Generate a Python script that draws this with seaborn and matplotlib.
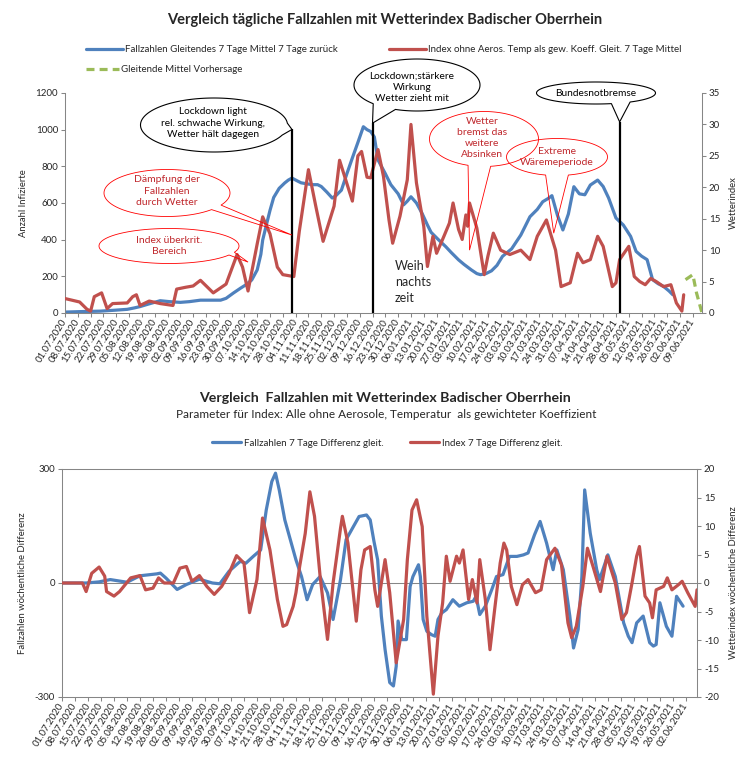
import numpy as np
import pandas as pd
import matplotlib
matplotlib.use("Agg")
import matplotlib.pyplot as plt
import matplotlib.dates as mdates
from matplotlib.patches import Polygon
from matplotlib.transforms import IdentityTransform
import seaborn as sns

sns.set_style("white")
plt.rcParams["font.family"] = ["Lato", "DejaVu Sans"]
plt.rcParams["axes.unicode_minus"] = False

W, H = 756, 762
START = pd.Timestamp("2020-07-01")

# ---- Daten oben (Tag seit 01.07.2020) ----
case_days = [0, 10, 19, 27, 34, 38, 41, 46, 52, 57, 63, 68, 74, 80, 85, 88, 92, 96, 99, 102,
             105, 107, 108, 110, 112, 114, 117, 120, 122, 124, 127, 129, 132, 135, 138, 140, 143, 146, 148, 151,
             154, 157, 160, 163, 165, 167, 169, 171, 175, 178, 182, 185, 187, 189, 192, 195, 198, 200, 204, 208,
             211, 215, 218, 222, 225, 227, 230, 233, 236, 239, 244, 249, 254, 258, 261, 264, 266, 269, 272, 275,
             278, 281, 284, 287, 291, 294, 297, 301, 305, 309, 312, 315, 318, 321, 324, 327, 330, 332]
case_vals = [5, 8, 10, 15, 20, 28, 35, 50, 67, 62, 58, 62, 70, 70, 70, 80, 109, 136, 155, 180,
             235, 320, 398, 480, 560, 630, 680, 709, 725, 736, 720, 710, 705, 700, 700, 690, 660, 627, 640, 670,
             760, 846, 930, 1016, 1000, 990, 960, 835, 760, 700, 650, 590, 610, 634, 600, 545, 480, 440, 400, 362,
             330, 290, 265, 235, 215, 209, 215, 230, 260, 309, 350, 425, 525, 565, 607, 625, 640, 534, 453, 540,
             689, 650, 645, 698, 725, 690, 627, 518, 480, 418, 336, 310, 291, 182, 160, 145, 120, 100]

index_days = [0, 8, 12, 14, 16, 20, 23, 26, 34, 37, 39, 41, 46, 52, 59, 61, 66, 70, 74, 81,
              88, 94, 97, 100, 105, 108, 112, 116, 119, 125, 128, 133, 137, 141, 147, 150, 157, 160, 162, 165,
              167, 171, 174, 177, 179, 183, 187, 189, 192, 196, 198, 201, 203, 207, 210, 212, 215, 217, 219, 220,
              221, 225, 229, 231, 234, 238, 243, 249, 254, 258, 263, 268, 271, 276, 280, 283, 287, 291, 294, 299,
              301, 303, 308, 311, 314, 317, 320, 323, 327, 331, 334, 337, 338]
index_vals = [2.3, 1.75, 0.6, 0.3, 2.6, 3.2, 0.7, 1.5, 1.6, 2.6, 2.9, 1.2, 1.9, 1.5, 1.2, 3.8, 4.1, 4.3, 5.2, 3.2,
              4.6, 9.3, 7.3, 3.5, 11.0, 15.3, 12.6, 7.3, 6.1, 5.8, 13.0, 22.8, 17.0, 11.4, 17.0, 24.3, 17.8, 25.0, 25.7, 21.6,
              21.5, 26.0, 21.7, 14.8, 11.1, 15.4, 21.2, 30.0, 20.7, 13.8, 7.4, 12.2, 9.5, 12.2, 14.3, 17.5, 13.3, 11.7, 15.6, 13.8,
              17.5, 13.5, 6.1, 9.0, 12.7, 10.0, 9.3, 10.0, 8.5, 12.2, 14.8, 10.0, 4.2, 4.8, 9.5, 8.0, 8.5, 12.2, 10.6, 4.2,
              4.8, 8.5, 10.6, 5.8, 5.0, 4.5, 5.5, 5.0, 4.2, 4.5, 1.6, 0.3, 2.9]

fc_days = [339, 343, 345, 348]
fc_vals = [5.3, 6.1, 3.2, 0.0]

event_days = [124, 168, 303]          # Lockdown light, Lockdown, Bundesnotbremse
event_tops = [29.2, 30.2, 30.4]       # in Wetterindex-Einheiten

# ---- Daten unten ----
dcase_days = [0, 13, 20, 26, 35, 42, 51, 53, 56, 62, 67, 74, 81, 85, 90, 96, 99, 103, 107, 110,
              113, 115, 117, 120, 122, 124, 126, 129, 132, 135, 139, 143, 146, 150, 153, 157, 160, 164, 166, 168,
              170, 172, 174, 176.5, 178.5, 180, 181, 183, 185.5, 187.5, 189, 192, 193, 194.5, 196.5, 199, 201, 202.5, 204.5, 207,
              210.5, 214, 218, 221.5, 223, 225, 228, 231.5, 234, 237.5, 241, 245, 248.5, 251, 254.5, 257.5, 261, 264.5, 266.5, 270,
              273.5, 275.5, 278, 280, 281.5, 284.5, 288, 289.5, 294, 298, 302.5, 305, 307, 309.5, 313, 316.5, 318.5, 320, 322, 325.5,
              328.5, 331, 334.5]
dcase_vals = [0, 0, 3, 9, 2, 19, 24, 26, 13, -17, -4, 10, 0, -2, 31, 57, 52, 70, 87, 192,
              267, 289, 245, 166, 131, 96, 61, 17, -44, -4, 17, -26, -96, 9, 114, 149, 175, 179, 166, 110,
              61, -87, -175, -262, -271, -219, -100, -149, -149, -9, 17, 48, 17, -96, -127, -136, -140, -96, -79, -70,
              -44, -61, -52, -48, -35, -83, -61, -17, 17, 22, 70, 70, 74, 79, 127, 162, 105, 35, 87, 35,
              -87, -171, -122, 17, 245, 131, 35, 9, 74, 17, -105, -140, -157, -105, -87, -157, -166, -162, -52, -114,
              -140, -35, -61]

dindex_days = [0, 11, 13, 16, 20, 23, 24, 28, 31, 37, 42, 45, 49, 52, 55, 60, 63.5, 67, 70, 74,
               78, 82, 86, 90, 94, 98, 101, 105, 108, 112, 116, 119, 121, 124.5, 126, 128, 131, 133.5, 136, 139,
               143, 146, 150, 151, 154, 158.5, 161, 163, 166, 168.5, 170, 174, 176.5, 180, 184, 186, 188.5, 191, 194, 196.5,
               198, 200, 202.5, 205, 207, 209, 212.5, 214, 216, 219, 221, 223.5, 225, 228, 230.5, 233, 236, 238, 239.5, 242,
               245, 248, 251, 255, 258, 261, 265.5, 269, 272.5, 274.5, 277, 280.5, 283, 286, 290, 293.5, 298, 301.5, 304, 307,
               309.5, 311, 314, 316.5, 318, 320, 324, 326, 328.5, 332, 334, 337, 341, 342]
dindex_vals = [0, 0, -1.5, 1.7, 2.8, 1.2, -1.5, -2.3, -1.5, 0.9, 1.3, -1.2, -0.9, 0.9, 0, 0, 2.6, 2.9, 0.3, 1.3,
               -0.6, -2.0, -0.6, 1.7, 4.8, 3.5, -5.2, 0.6, 11.4, 5.8, -2.9, -7.6, -7.3, -4.1, -1.7, 2.9, 8.7, 16.0, 11.7, 1.2,
               -9.9, 0, 9.6, 11.7, 7.0, -6.7, 2.3, 5.8, 6.4, -1.2, -4.1, 4.1, -1.7, -14.0, -6.4, 4.1, 12.8, 14.6, 9.9, -5.8,
               -11.7, -19.5, -9.3, -3.5, 4.7, 0.3, 4.7, 3.5, 5.8, -2.9, 0.6, -3.5, 4.1, -2.9, -11.7, -4.7, 3.5, 7.0, 5.8, -0.6,
               -3.8, -0.3, 0.6, -1.7, -1.2, 4.1, 6.1, 3.2, -7.0, -9.6, -7.6, -0.6, 6.1, 2.9, -1.5, 4.7, 0, -6.4, -5.2, 0,
               4.7, 6.4, -2.3, -3.5, -6.1, -1.2, -0.6, 0.9, -1.2, -0.3, 0.3, -1.7, -4.1, -1.2]

top_ticks = pd.date_range("2020-07-01", "2021-06-09", freq="7D")
bot_ticks = pd.date_range("2020-07-01", "2021-06-02", freq="7D")

GRAY = "#868686"
BLUE = "#4F81BD"
RED = "#C0504D"
GREEN = "#9BBB59"
TXTRED = "#C0282D"


def to_dates(days):
    return START + pd.to_timedelta(days, unit="D")


fig = plt.figure(figsize=(W / 100, H / 100), dpi=100)


def fig_axes(left, top, right, bottom):
    return fig.add_axes([left / W, 1 - bottom / H, (right - left) / W, (bottom - top) / H])


def style(ax, axr, ticks, box):
    for s in ["top", "right"]:
        ax.spines[s].set_visible(False)
    for s in ["top", "left", "bottom"]:
        axr.spines[s].set_visible(False)
    for sp in [ax.spines["left"], ax.spines["bottom"], axr.spines["right"]]:
        sp.set_color(GRAY)
        sp.set_linewidth(0.75)
    if box:
        ax.spines["top"].set_visible(True)
        ax.spines["top"].set_color(GRAY)
        ax.spines["top"].set_linewidth(0.75)
    ax.tick_params(axis="both", bottom=True, left=True, direction="out", length=3,
                   width=0.75, color=GRAY, labelsize=7, pad=2)
    axr.tick_params(axis="y", right=True, direction="out", length=3,
                    width=0.75, color=GRAY, labelsize=7, pad=2)
    ax.set_xticks(mdates.date2num(ticks.to_pydatetime()))
    ax.set_xticklabels([d.strftime("%d.%m.%Y") for d in ticks])
    plt.setp(ax.get_xticklabels(), rotation=58, ha="right", va="center",
             rotation_mode="anchor")
    ax.set_xlabel("")


# ================= oberes Diagramm =================
ax1 = fig_axes(65, 93, 702, 313)
ax1r = ax1.twinx()

sns.lineplot(x=to_dates(case_days), y=case_vals, ax=ax1, color=BLUE, linewidth=2.3)
sns.lineplot(x=to_dates(index_days), y=index_vals, ax=ax1r, color=RED, linewidth=2.3)
sns.lineplot(x=to_dates(fc_days), y=fc_vals, ax=ax1r, color=GREEN, linewidth=2.3,
             linestyle=(0, (2.5, 1.6)))
ax1r.vlines(to_dates(event_days), 0, event_tops, color="black", linewidth=1.6)

ax1.set_xlim(START, START + pd.Timedelta(days=348))
ax1.set_ylim(0, 1200)
ax1.set_yticks(range(0, 1201, 200))
ax1r.set_ylim(0, 35)
ax1r.set_yticks(range(0, 36, 5))
style(ax1, ax1r, top_ticks, False)
ax1.set_ylabel("Anzahl Infizierte", fontsize=6.8)
ax1.yaxis.set_label_coords((28 - 65) / 637, 0.5)
ax1r.set_ylabel("Wetterindex", fontsize=6.8)
ax1r.yaxis.set_label_coords((729 - 65) / 637, 0.5)

fig.text(385 / W, 1 - 20 / H, "Vergleich tägliche Fallzahlen mit Wetterindex Badischer Oberrhein",
         ha="center", va="center", fontsize=10.5, fontweight="bold")


def legend_entry(handle, label, x, y, hl, fs=7):
    fig.legend([handle], [label], loc="center left", bbox_to_anchor=(x / W, 1 - y / H),
               frameon=False, fontsize=fs, handlelength=hl, handletextpad=0.25,
               borderpad=0, borderaxespad=0)


legend_entry(ax1.lines[0], "Fallzahlen Gleitendes 7 Tage Mittel 7 Tage zurück", 86, 50, 3.8)
legend_entry(ax1r.lines[0], "Index ohne Aeros. Temp als gew. Koeff. Gleit. 7 Tage Mittel", 389, 50, 3.8)
legend_entry(ax1r.lines[1], "Gleitende Mittel Vorhersage", 86, 70, 3.4)

# Sprechblasen: (Text, Ellipse cx, cy, w, h, Textpos, Spitzenwinkel, Breite, Spitze Tag, Spitze Wert, Farbe)
callouts = [
    ("Lockdown light\nrel. schwache Wirkung,\nWetter hält dagegen", (214, 125, 147, 54), (213, 123), (-9, 13), (124, 29.2), "black"),
    ("Lockdown;stärkere\nWirkung\nWetter zieht mit", (417, 85, 126, 52), (412, 87), (-122, 12), (168, 30.2), "black"),
    ("Bundesnotbremse", (596, 93, 119, 22), (596, 93), (-65, 10), (303, 30.4), "black"),
    ("Dämpfung der\nFallzahlen\ndurch Wetter", (167, 193, 126, 47), (167, 191), (-38, 7), (124, 12.4), "red"),
    ("Index überkrit.\nBereich", (169, 246, 140, 35), (169, 246), (-26, 5), (100, 8.1), "red"),
    ("Wetter\nbremst das\nweitere\nAbsinken", (484, 139, 109, 55), (482, 138), (-95, 12), (221, 10.0), "red"),
    ("Extreme\nWäremeperiode", (557, 157, 101, 37), (557, 157), (-90, 13), (267, 12.7), "red"),
]

fig.canvas.draw()
for text, (cx, cy, w, h), (tx, ty), (t0, dt), (tday, tval), kind in callouts:
    tip = ax1r.transData.transform((mdates.date2num(START + pd.Timedelta(days=tday)), tval))
    ts = np.radians(np.linspace(t0 + dt, t0 + 360 - dt, 160))
    pts = np.column_stack([cx + w / 2 * np.cos(ts), (H - cy) + h / 2 * np.sin(ts)])
    pts = np.vstack([pts, tip])
    if kind == "black":
        fig.add_artist(Polygon(pts, closed=True, transform=IdentityTransform(),
                               facecolor="white", edgecolor="black", linewidth=0.8))
        fig.text(tx / W, 1 - ty / H, text, ha="center", va="center", fontsize=7.3,
                 linespacing=1.3, color="black")
    else:
        fig.add_artist(Polygon(pts, closed=True, transform=IdentityTransform(),
                               facecolor="none", edgecolor="#FF0000", linewidth=0.6))
        fig.text(tx / W, 1 - ty / H, text, ha="center", va="center", fontsize=7.5,
                 linespacing=1.3, color=TXTRED)

fig.text(395 / W, 1 - 282 / H, "Weih\nnachts\nzeit", ha="left", va="center",
         fontsize=9, linespacing=1.35)

# ================= unteres Diagramm =================
ax2 = fig_axes(62, 469, 697, 697)
ax2r = ax2.twinx()

sns.lineplot(x=to_dates(dcase_days), y=dcase_vals, ax=ax2, color=BLUE, linewidth=2.3)
sns.lineplot(x=to_dates(dindex_days), y=dindex_vals, ax=ax2r, color=RED, linewidth=2.3)
ax2.axhline(0, color=GRAY, linewidth=0.75, zorder=0)

ax2.set_xlim(START, START + pd.Timedelta(days=342))
ax2.set_ylim(-300, 300)
ax2.set_yticks([-300, 0, 300])
ax2r.set_ylim(-20, 20)
ax2r.set_yticks(range(-20, 21, 5))
style(ax2, ax2r, bot_ticks, True)
ax2.set_ylabel("Fallzahlen wöchentliche Differenz", fontsize=6.8)
ax2.yaxis.set_label_coords((27.5 - 62) / 635, 0.5)
ax2r.set_ylabel("Wetterindex wöchentliche Differenz", fontsize=6.8)
ax2r.yaxis.set_label_coords((729 - 62) / 635, 0.5)

fig.text(385 / W, 1 - 398 / H, "Vergleich  Fallzahlen mit Wetterindex Badischer Oberrhein",
         ha="center", va="center", fontsize=10.2, fontweight="bold")
fig.text(386 / W, 1 - 415 / H,
         "Parameter für Index: Alle ohne Aerosole, Temperatur  als gewichteter Koeffizient",
         ha="center", va="center", fontsize=8.5)

legend_entry(ax2.lines[0], "Fallzahlen 7 Tage Differenz gleit.", 212, 443, 3.0)
legend_entry(ax2r.lines[0], "Index 7 Tage Differenz gleit.", 410, 443, 3.0)

fig.savefig("out.png", dpi=100)
